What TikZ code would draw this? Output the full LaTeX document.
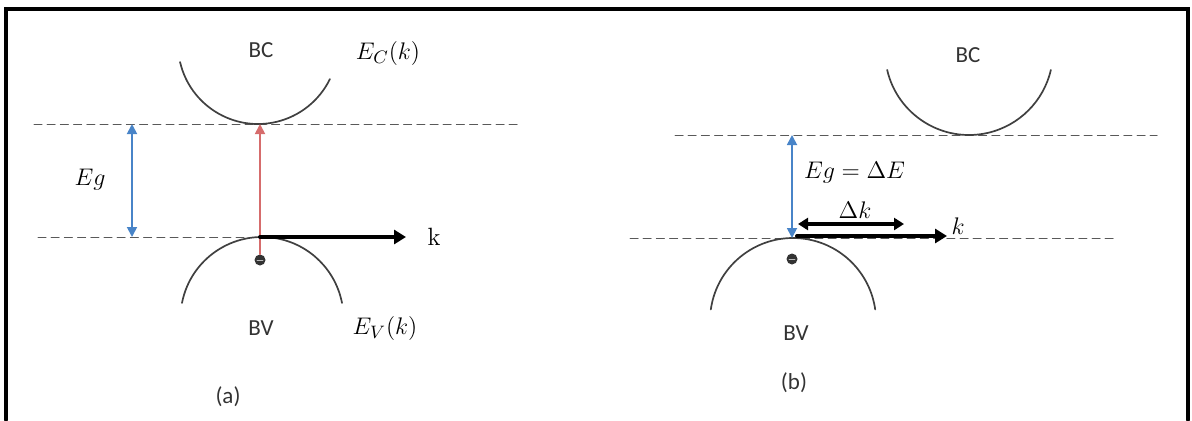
\documentclass[tikz,border=0pt]{standalone}
\usepackage{amsmath,amssymb}
\usepackage{fontspec}
\setsansfont{Carlito}
\usepackage{tikz}
\usetikzlibrary{arrows.meta}
\usepackage{xcolor}
\definecolor{gapblue}{RGB}{72,132,200}
\definecolor{jumpred}{RGB}{214,108,108}

\begin{document}
\begin{tikzpicture}[x=0.5pt,y=0.5pt,>={Triangle[length=5pt,width=5pt]},line cap=round,
  band/.style={black!75,line width=0.85pt},
  level/.style={gray!70!black,line width=0.5pt,dash pattern=on 4pt off 2.6pt},
  gap/.style={<->,gapblue,line width=0.9pt},
  kaxis/.style={-{Triangle[length=6pt,width=7pt]},line width=2pt},
  dk/.style={{Triangle[length=5pt,width=6pt]}-{Triangle[length=5pt,width=6pt]},line width=1.6pt},
  sflbl/.style={font=\sffamily\fontsize{11.5}{13}\selectfont,text=black!80},
  mlbl/.style={font=\fontsize{12.5}{14}\selectfont},
  elec/.style={circle,fill=black!80,inner sep=0pt,minimum size=5.5pt}]
\useasboundingbox (0,0) rectangle (1192,420);
% frame
\draw[line width=1.6pt] (6,0) -- (6,411) -- (1188,411) -- (1188,0);

% (a) direct gap
\coordinate (cbm-a) at (260,296);
\coordinate (vbm-a) at (260,183);
\coordinate (kend-a) at (406,183);
\draw[level] (34,296) -- (517,296);
\draw[level] (38,183) -- (400,183);
\draw[band] ([shift={(193:80)}]258,376) arc[start angle=193,end angle=334,radius=80];
\draw[band] ([shift={(169:81.5)}]262,101.5) arc[start angle=169,end angle=11,radius=81.5];
\node[elec] (ea) at (260,160) {};
\draw[gray!55,line width=0.4pt] ([xshift=-1.5pt]ea.center) -- ([xshift=1.5pt]ea.center);
\draw[->,jumpred,line width=0.9pt] (ea.north) -- (cbm-a);
\coordinate (gt-a) at (132,296);
\coordinate (gb-a) at (132,183);
\draw[gap] (gt-a) -- (gb-a);
\node[mlbl] (eg-a) at (90,240) {$Eg$};
\draw[kaxis] (vbm-a) -- (kend-a);
\node[mlbl] (ka) at (434,183) {$\mathrm{k}$};
\node[sflbl] (bc-a) at (261,370) {BC};
\node[mlbl] (ec-a) at (388,367) {$E_C(k)$};
\node[sflbl] (bv-a) at (261,92) {BV};
\node[mlbl] (ev-a) at (385,92) {$E_V(k)$};
\node[sflbl] (cap-a) at (228,23) {(a)};

% (b) indirect gap
\coordinate (vbm-b) at (797,184);
\coordinate (kend-b) at (947,184);
\draw[level] (675,285) -- (1157,285);
\draw[level] (630,182) -- (1113,182);
\draw[band] ([shift={(193:84)}]969,369) arc[start angle=193,end angle=347,radius=84];
\draw[band] ([shift={(172:83)}]793,99) arc[start angle=172,end angle=8,radius=83];
\node[elec] (eb) at (792,161) {};
\draw[gray!55,line width=0.4pt] ([xshift=-1.5pt]eb.center) -- ([xshift=1.5pt]eb.center);
\coordinate (gt-b) at (792,285);
\coordinate (gb-b) at (792,182);
\draw[gap] (gt-b) -- (gb-b);
\node[mlbl,anchor=west] (eg-b) at (797,247) {$Eg = \Delta E$};
\coordinate (dl) at (798,196);
\coordinate (dr) at (904,196);
\draw[dk] (dl) -- (dr);
\node[mlbl] (dk-b) at (855,210) {$\Delta k$};
\draw[kaxis] (vbm-b) -- (kend-b);
\node[mlbl] (kb) at (958,194) {$k$};
\node[sflbl] (bc-b) at (968,365) {BC};
\node[sflbl] (bv-b) at (796,87) {BV};
\node[sflbl] (cap-b) at (794,37) {(b)};
\end{tikzpicture}
\end{document}
